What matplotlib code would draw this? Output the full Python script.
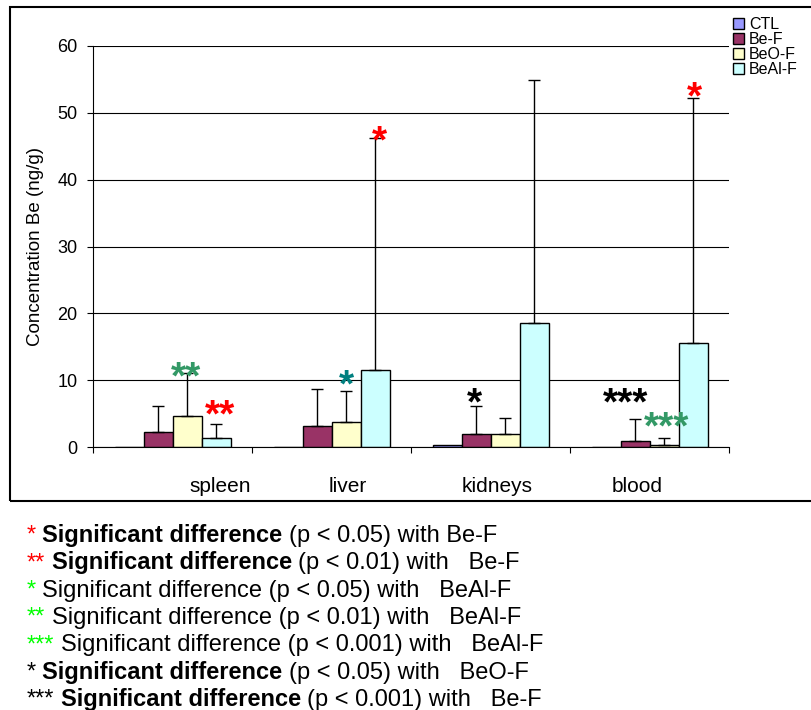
import matplotlib
matplotlib.use('Agg')
import matplotlib.pyplot as plt
import numpy as np
from matplotlib.patches import Rectangle

plt.rcParams['font.family'] = ['Liberation Sans', 'DejaVu Sans']

# data (ng/g)
organs = ['spleen', 'liver', 'kidneys', 'blood']
groups = ['CTL', 'Be-F', 'BeO-F', 'BeAl-F']
ctl = [0.05, 0.05, 0.25, 0.05]
be_f = [2.2, 3.1, 1.95, 0.85]
beo_f = [4.6, 3.8, 2.0, 0.35]
beal_f = [1.3, 11.5, 18.6, 15.5]
# upper error bars only
be_f_err = [4.0, 5.6, 4.25, 3.35]
beo_f_err = [6.5, 4.6, 2.4, 0.95]
beal_f_err = [2.2, 34.8, 36.3, 36.7]

# significance marks: organ, group, text, colour, height of the mark
stars = [
    (0, 2, '**', '#339966', 12.1),
    (0, 3, '**', '#ff0000', 6.4),
    (1, 2, '*', '#008080', 10.9),
    (1, 3, '*', '#ff0000', 47.4),
    (2, 1, '*', 'black', 8.2),
    (3, 1, '***', 'black', 8.2),
    (3, 2, '***', '#339966', 4.7),
    (3, 3, '*', '#ff0000', 54.1),
]
star_dx = [-1, 3, 0, 3, -1, -7, 2, 1]  # small nudges in points

# footnote lines: (text, colour, bold) pieces
notes = [
    [('*', '#ff0000', False), ('Significant difference', 'black', True), ('(p < 0.05) with Be-F', 'black', False)],
    [('**', '#ff0000', False), ('Significant difference', 'black', True), ('(p < 0.01) with   Be-F', 'black', False)],
    [('*', '#00ff00', False), ('Significant difference (p < 0.05) with   BeAl-F', 'black', False)],
    [('**', '#00ff00', False), ('Significant difference (p < 0.01) with   BeAl-F', 'black', False)],
    [('***', '#00ff00', False), ('Significant difference (p < 0.001) with   BeAl-F', 'black', False)],
    [('*', 'black', False), ('Significant difference', 'black', True), ('(p < 0.05) with   BeO-F', 'black', False)],
    [('***', 'black', False), ('Significant difference', 'black', True), ('(p < 0.001) with   Be-F', 'black', False)],
]

colors = ['#9999ff', '#993366', '#ffffcc', '#ccffff']
label_x = [0.30, 0.10, 0.04, -0.08]  # category labels sit off-centre in the original

W, H = 811, 710
fig = plt.figure(figsize=(W / 100.0, H / 100.0), dpi=100)
ax = fig.add_axes([93.0 / W, 1 - 447.0 / H, 636.0 / W, 401.0 / H])

x = np.arange(len(organs))
w = 29.0 / 159.0
values = [ctl, be_f, beo_f, beal_f]
errs = [None, be_f_err, beo_f_err, beal_f_err]
bars = []
for i in range(4):
    pos = x + (i - 1.5) * w
    b = ax.bar(pos, values[i], w, color=colors[i], edgecolor='black',
               linewidth=1.0, label=groups[i], zorder=2)
    bars.append(b)
    if errs[i] is not None:
        ax.errorbar(pos, values[i], yerr=[np.zeros(4), errs[i]], fmt='none',
                    ecolor='black', elinewidth=1.0, capsize=4, capthick=1.0, zorder=3)

size = 28
for (org, grp, txt, col, yv), dx in zip(stars, star_dx):
    ax.annotate(txt, xy=(x[org] + (grp - 1.5) * w, yv), xytext=(dx, -0.58 * size),
                textcoords='offset points', ha='center', va='baseline',
                fontsize=size, fontweight='bold', color=col, zorder=4)

ax.set_xlim(-0.5, 3.5)
ax.set_ylim(0, 60)
ax.set_yticks(range(0, 61, 10))
ax.tick_params(axis='y', direction='out', length=4, width=0.8, pad=7, labelsize=13)
ax.set_xticks([])
ax.set_xticks(np.arange(-0.5, 4, 1.0), minor=True)
ax.tick_params(axis='x', which='minor', direction='out', length=4.5, width=0.8)
ax.yaxis.grid(True, color='black', linewidth=0.8)
ax.set_axisbelow(True)
for s in ['top', 'right']:
    ax.spines[s].set_visible(False)
for s in ['left', 'bottom']:
    ax.spines[s].set_linewidth(0.8)

for i, name in enumerate(organs):
    ax.text(x[i] + label_x[i], -0.112, name, transform=ax.get_xaxis_transform(),
            ha='center', va='baseline', fontsize=15)

ax.set_ylabel('Concentration Be (ng/g)', fontsize=13.5)
ax.yaxis.set_label_coords(-0.077, 0.5)

fig.legend(handles=bars, labels=groups, loc='upper left',
           bbox_to_anchor=(733.0 / W, 1 - 17.0 / H), frameon=False, fontsize=11.5,
           handlelength=0.7, handleheight=0.7, handletextpad=0.3,
           labelspacing=0.0, borderpad=0, borderaxespad=0)

# box around the chart
fig.add_artist(Rectangle((10.0 / W, 1 - 501.0 / H), 830.0 / W, 494.0 / H,
                         transform=fig.transFigure, fill=False,
                         edgecolor='black', linewidth=1.5))

# footnote with mixed colours and weights
fs = 17
for k, line in enumerate(notes):
    yb = 1 - (542.0 + 27.3 * k) / H
    prev = None
    for txt, col, bold in line:
        wt = 'bold' if bold else 'normal'
        if prev is None:
            prev = fig.text(27.0 / W, yb, txt, color=col, fontsize=fs,
                            fontweight=wt, ha='left', va='baseline')
        else:
            prev = fig.add_artist(plt.Annotation(txt, xy=(1, 0), xycoords=prev,
                                                 xytext=(4.5, 0), textcoords='offset points',
                                                 color=col, fontsize=fs, fontweight=wt,
                                                 ha='left', va='bottom'))

plt.savefig('out.png', dpi=100)
